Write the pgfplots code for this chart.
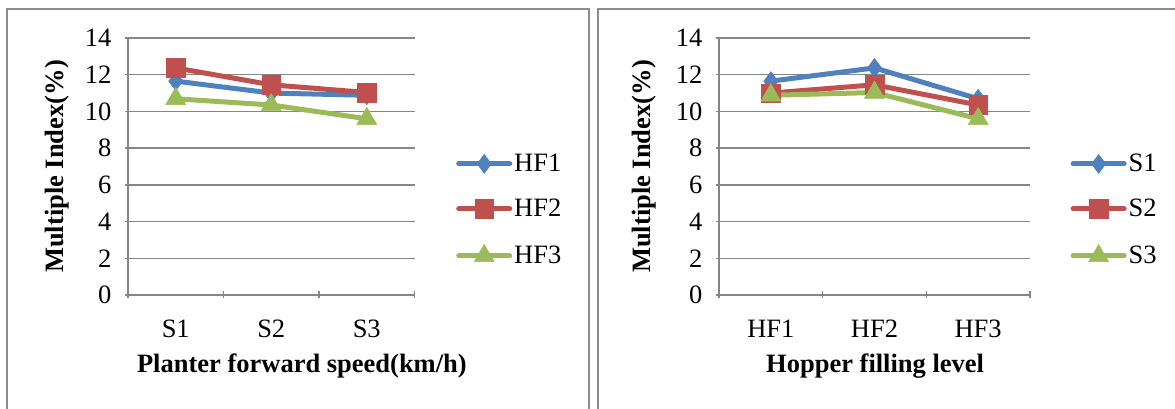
\documentclass[border=0pt]{standalone}
\usepackage{fontspec}
\setmainfont{Liberation Serif}
\usepackage{pgfplots}
\usepackage{pgfplotstable}
\pgfplotsset{compat=1.18}

\definecolor{sblue}{HTML}{4F81BD}
\definecolor{sred}{HTML}{C0504D}
\definecolor{sgreen}{HTML}{9BBB59}
\definecolor{gridgray}{HTML}{868686}
\definecolor{framegray}{HTML}{8C8C8C}

% Multiple index (%) by forward speed (rows) and hopper filling level (columns)
\pgfplotstableread{
x    HF1    HF2    HF3
0.5  11.65  12.37  10.69
1.5  11.00  11.45  10.35
2.5  10.88  11.03  9.60
}\speedtab

\pgfplotstableread{
x    S1     S2     S3
0.5  11.65  11.00  10.88
1.5  12.37  11.45  11.03
2.5  10.69  10.35  9.60
}\hoppertab

\newcommand{\chartfont}{\fontsize{26.5}{30}\selectfont}

\pgfplotsset{
  panel/.style={
    scale only axis,
    height=257pt,
    xmin=0, xmax=3, ymin=0, ymax=14,
    ytick={0,2,...,14},
    xtick={0.5,1.5,2.5},
    minor xtick={0,1,2,3},
    major x tick style={draw=none},
    minor tick length=7pt,
    major tick length=7pt,
    tick align=outside,
    axis x line=bottom, axis y line=left,
    axis line style={gridgray, line width=1.4pt, -},
    every tick/.style={gridgray, line width=1.4pt},
    ymajorgrids=true, xmajorgrids=false,
    major grid style={gridgray, line width=1.4pt},
    /pgf/number format/assume math mode=true,
    tick label style={font=\chartfont, inner sep=0pt},
    yticklabel style={anchor=east, xshift=-13pt},
    xticklabel style={anchor=base, yshift=-39pt},
    label style={font=\chartfont\bfseries},
    ylabel={Multiple Index(\%)},
    legend style={draw=none, fill=none, inner sep=0pt, font=\chartfont,
      row sep=26pt, column sep=2pt,
      nodes={inner sep=0pt}},
    legend cell align=left,
    legend image code/.code={
      \draw[mark repeat=2, mark phase=2, line cap=round]
        plot coordinates {(2.5pt,0pt) (28pt,0pt) (53.5pt,0pt)};},
    every axis plot/.append style={line width=5pt},
  },
  s1/.style={sblue, mark=diamond*, mark size=9.5pt, mark options={solid, line width=0.5pt}},
  s2/.style={sred, mark=square*, mark size=9.3pt, mark options={solid, line width=0.5pt}},
  s3/.style={sgreen, mark=triangle*, mark size=11.5pt, mark options={solid, line width=0.5pt}},
}

\begin{document}
\begin{tikzpicture}[x=1pt, y=1pt]
\useasboundingbox (0,0) rectangle (1175,409);

% panel frames
\draw[framegray, line width=1.5pt] (7,-2) -- (7,400) -- (589,400) -- (589,-2);
\draw[framegray, line width=1.5pt] (598,-2) -- (598,400) -- (1177,400);

\begin{axis}[panel, at={(128pt,114pt)}, anchor=south west, width=286.5pt,
  xticklabels={S1,S2,S3},
  xlabel={Planter forward speed(km/h)},
  xlabel style={at={(axis description cs:0.607,-0.3035)}, anchor=base},
  ylabel style={at={(axis description cs:-0.248,0.5)}, anchor=center, rotate=0},
  legend style={at={(axis description cs:1.145,0.331)}, anchor=west},
]
\addplot[s1] table[x=x, y=HF1] {\speedtab};
\addplot[s2] table[x=x, y=HF2] {\speedtab};
\addplot[s3] table[x=x, y=HF3] {\speedtab};
\legend{HF1,HF2,HF3}
\end{axis}

\begin{axis}[panel, at={(719pt,114pt)}, anchor=south west, width=311pt,
  xticklabels={HF1,HF2,HF3},
  xlabel={Hopper filling level},
  xlabel style={at={(axis description cs:0.502,-0.3035)}, anchor=base},
  ylabel style={at={(axis description cs:-0.241,0.5)}, anchor=center, rotate=0},
  legend style={at={(axis description cs:1.130,0.331)}, anchor=west},
]
\addplot[s1] table[x=x, y=S1] {\hoppertab};
\addplot[s2] table[x=x, y=S2] {\hoppertab};
\addplot[s3] table[x=x, y=S3] {\hoppertab};
\legend{S1,S2,S3}
\end{axis}
\end{tikzpicture}
\end{document}
